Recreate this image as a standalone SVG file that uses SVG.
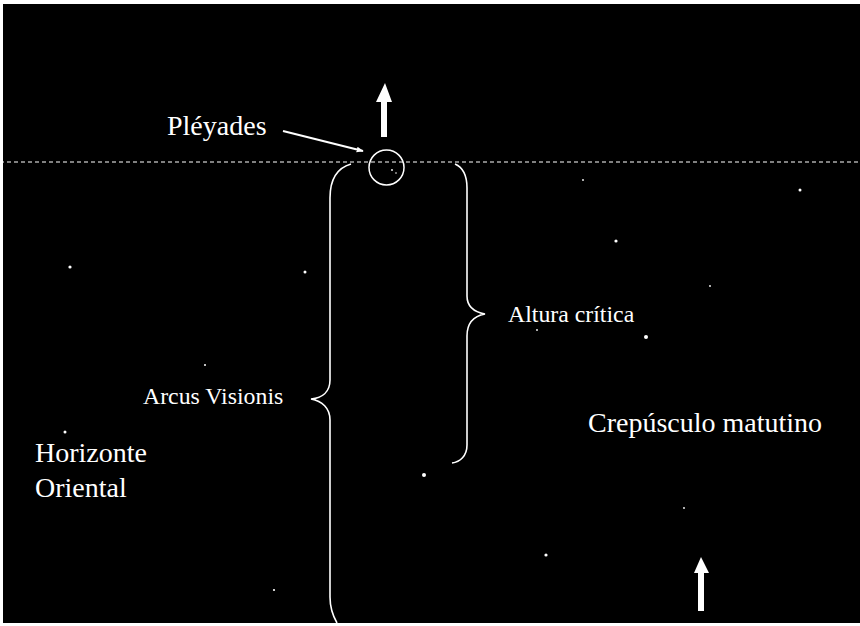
<svg xmlns="http://www.w3.org/2000/svg" width="860" height="626" viewBox="0 0 860 626">
  <defs>
    <style>
      .t { font-family: "Liberation Serif", "Times New Roman", serif; fill: #ffffff; }
      .big { font-size: 28px; }
      .small { font-size: 23.8px; }
      .brace { fill: none; stroke: #ffffff; stroke-width: 1.6; }
      .star { fill: #ffffff; }
    </style>
    <marker id="ah" viewBox="0 0 10 10" refX="9" refY="5" markerWidth="7" markerHeight="7" orient="auto" markerUnits="userSpaceOnUse">
      <path d="M0,1 L10,5 L0,9 Z" fill="#ffffff"/>
    </marker>
  </defs>
  <rect x="0" y="0" width="860" height="626" fill="#ffffff"/>
  <rect x="3" y="4" width="857" height="619" fill="#000000"/>

  <g id="stars">
    <circle class="star" cx="70" cy="267" r="1.6"/>
    <circle class="star" cx="305" cy="272" r="1.5"/>
    <circle class="star" cx="616" cy="241" r="1.6"/>
    <circle class="star" cx="646" cy="337" r="2"/>
    <circle class="star" cx="424" cy="475" r="2"/>
    <circle class="star" cx="546" cy="555" r="1.6"/>
    <circle class="star" cx="800" cy="190" r="1.5"/>
    <circle class="star" cx="274" cy="590" r="1.1"/>
    <circle class="star" cx="65" cy="432" r="1.5"/>
    <circle class="star" cx="205" cy="365" r="1"/>
    <circle class="star" cx="583" cy="180" r="0.9"/>
    <circle class="star" cx="684" cy="508" r="0.9"/>
    <circle class="star" cx="710" cy="286" r="0.9"/>
    <circle class="star" cx="537" cy="330" r="0.9"/>
    <circle class="star" cx="392" cy="170" r="0.9"/>
    <circle class="star" cx="396" cy="173" r="0.8"/>
  </g>

  <g id="horizon-line">
    <line x1="0" y1="162" x2="860" y2="162" stroke="#ffffff" stroke-width="1.2" stroke-dasharray="4 3"/>
  </g>

  <g id="pleyades">
    <circle cx="386.5" cy="167.5" r="17.5" fill="none" stroke="#ffffff" stroke-width="1.5"/>
    <text class="t big" x="167" y="135">Pléyades</text>
  </g>

  <g id="arrow-top">
    <path d="M385,83 L392,102 L387,102 L387,137 L381,137 L381,102 L376,102 Z" fill="#ffffff"/>
  </g>

  <g id="arrow-bottom">
    <path d="M701,557 L709,573 L704,573 L704,611 L698,611 L698,573 L694,573 Z" fill="#ffffff"/>
  </g>

  <g id="arcus-visionis">
    <path class="brace" d="M351,164 C337,168 330,180 330,198 L330,380 C330,392 322,398 311,399 C322,401 330,408 330,420 L330,597 C330,608 333,616 337,623"/>
    <text class="t small" x="143" y="404">Arcus Visionis</text>
  </g>

  <g id="altura-critica">
    <path class="brace" d="M455,164 C462,167 467,175 467,188 L467,296 C467,306 474,312 485,314 C474,316 467,323 467,336 L467,445 C467,456 460,462 452,463"/>
    <text class="t small" x="508" y="322">Altura crítica</text>
  </g>

  <g id="horizonte">
    <text class="t big" x="35" y="462">Horizonte</text>
    <text class="t big" x="35" y="497">Oriental</text>
  </g>

  <g id="crepusculo">
    <text class="t big" x="588" y="432">Crepúsculo matutino</text>
  </g>

  <g id="connectors">
    <line x1="283" y1="131" x2="363" y2="151" stroke="#ffffff" stroke-width="2" marker-end="url(#ah)"/>
  </g>
</svg>
